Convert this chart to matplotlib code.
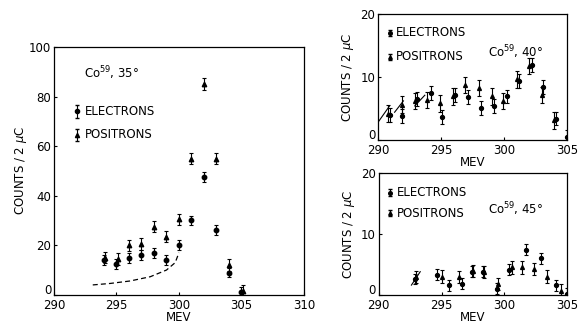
import numpy as np
import matplotlib
matplotlib.use("Agg")
import matplotlib.pyplot as plt
from matplotlib.transforms import ScaledTranslation

# ---- Co59, 35 deg (main panel) ----
e35_x = [294, 295, 296, 297, 298, 299, 300, 301, 302, 303, 304, 305]
e35_y = [14, 12.5, 15, 16, 17, 14, 20, 30, 47.5, 26, 9, 1]
p35_x = [294.1, 295.1, 296, 297, 298, 299, 300, 301, 302, 303, 304, 305.1]
p35_y = [15, 14.5, 20, 20.5, 27.5, 23.5, 30.5, 55, 85, 55, 12, 1.5]
e35_err = 2.0
p35_err = 2.3
curve35_x = [293.1, 294.5, 296.1, 297.7, 299.0, 299.7, 300.0]
curve35_y = [4.0, 4.6, 5.6, 7.3, 10.0, 13.0, 17.0]

# ---- Co59, 40 deg ----
e40_x = [290.9, 291.9, 293.1, 294.2, 295.1, 296.1, 297.1, 298.2, 299.2, 300.2, 301.2, 302.2, 303.1, 304.1, 305]
e40_y = [4.0, 3.8, 6.5, 7.5, 3.7, 7.1, 6.8, 5.1, 5.4, 6.9, 9.4, 11.9, 8.4, 3.4, 0.5]
p40_x = [290.8, 291.9, 292.9, 293.9, 294.9, 295.9, 296.9, 298.0, 299.0, 299.9, 301.0, 302.0, 303.0, 304.0]
p40_y = [4.2, 5.6, 6.2, 6.3, 5.8, 6.9, 8.7, 8.2, 6.9, 6.2, 9.6, 11.7, 7.1, 3.1]
e40_err = 1.1
p40_err = 1.3
seg40_x = [[289.7, 290.9], [291.3, 292.0], [292.9, 293.7]]
seg40_y = [[2.0, 5.4], [4.4, 6.2], [5.4, 7.1]]

# ---- Co59, 45 deg ----
e45_x = [292.9, 294.6, 295.6, 296.6, 297.4, 298.3, 299.4, 300.4, 301.7, 302.9, 304.1, 305]
e45_y = [2.6, 3.3, 1.6, 1.8, 3.8, 3.8, 1.0, 4.1, 7.4, 6.0, 1.6, 0.2]
p45_x = [293.0, 295.0, 296.4, 297.5, 298.4, 299.5, 300.6, 301.4, 302.4, 303.4, 304.5]
p45_y = [2.9, 3.0, 2.9, 3.9, 3.8, 1.8, 4.5, 4.5, 4.3, 3.0, 0.7]
e45_err = 0.9
p45_err = 1.0
seg45_x = [292.6, 293.3]
seg45_y = [1.6, 3.8]

fs = 8.5
plt.rcParams['font.family'] = 'DejaVu Sans'
plt.rcParams['axes.linewidth'] = 0.9

fig = plt.figure(figsize=(5.81, 3.24), dpi=100)

def style(ax, ypad=3):
    ax.tick_params(direction='in', length=2.5, width=0.8, labelsize=fs, pad=2,
                   top=False, right=False)
    ax.tick_params(axis='x', pad=3)
    ax.set_ylabel(r'COUNTS / 2 $\mu$C', fontsize=fs, labelpad=ypad)
    ax.set_xlabel('MEV', fontsize=fs, labelpad=-1)
    # the "0" sits a little higher than the axis line, as in the original
    zero = ax.yaxis.get_major_ticks()[0].label1
    zero.set_transform(zero.get_transform() +
                       ScaledTranslation(0, 4 / 72, fig.dpi_scale_trans))

def points(ax, ex, ey, eerr, px, py, perr, ms):
    ax.errorbar(ex, ey, yerr=eerr, fmt='o', color='black', ms=ms, capsize=1.5,
                elinewidth=0.8, capthick=0.8)
    ax.errorbar(px, py, yerr=perr, fmt='^', color='black', ms=ms, capsize=1.5,
                elinewidth=0.8, capthick=0.8)

def legend(ax, x, y1, y2, ms):
    ax.errorbar([x], [y1], yerr=[0.025], fmt='o', color='black', ms=ms, capsize=1.2,
                elinewidth=0.8, transform=ax.transAxes, clip_on=False)
    ax.errorbar([x], [y2], yerr=[0.025], fmt='^', color='black', ms=ms, capsize=1.2,
                elinewidth=0.8, transform=ax.transAxes, clip_on=False)
    ax.text(x + 0.035, y1, 'ELECTRONS', transform=ax.transAxes, fontsize=fs, va='center')
    ax.text(x + 0.035, y2, 'POSITRONS', transform=ax.transAxes, fontsize=fs, va='center')

# main panel
ax1 = fig.add_axes([0.093, 0.090, 0.430, 0.765])
points(ax1, e35_x, e35_y, e35_err, p35_x, p35_y, p35_err, 3.2)
ax1.plot(curve35_x, curve35_y, color='black', ls=(0, (4, 2.5)), lw=0.9)
ax1.set_xlim(290, 310)
ax1.set_ylim(0, 100)
ax1.set_xticks([290, 295, 300, 305, 310])
ax1.set_yticks([0, 20, 40, 60, 80, 100])
style(ax1, ypad=0)
legend(ax1, 0.09, 0.74, 0.645, 3.0)
ax1.text(0.12, 0.875, r'Co$^{59}$, 35°', transform=ax1.transAxes, fontsize=fs)

# 40 deg panel
ax2 = fig.add_axes([0.651, 0.568, 0.325, 0.389])
points(ax2, e40_x, e40_y, e40_err, p40_x, p40_y, p40_err, 2.8)
for sx, sy in zip(seg40_x, seg40_y):
    ax2.plot(sx, sy, color='black', lw=0.8)
ax2.set_xlim(290, 305)
ax2.set_ylim(0, 20)
ax2.set_xticks([290, 295, 300, 305])
ax2.set_yticks([0, 10, 20])
style(ax2)
legend(ax2, 0.06, 0.85, 0.66, 2.6)
ax2.text(0.58, 0.70, r'Co$^{59}$, 40°', transform=ax2.transAxes, fontsize=fs, va='center')

# 45 deg panel
ax3 = fig.add_axes([0.652, 0.090, 0.324, 0.376])
points(ax3, e45_x, e45_y, e45_err, p45_x, p45_y, p45_err, 2.8)
ax3.plot(seg45_x, seg45_y, color='black', lw=0.8)
ax3.set_xlim(290, 305)
ax3.set_ylim(0, 20)
ax3.set_xticks([290, 295, 300, 305])
ax3.set_yticks([0, 10, 20])
style(ax3)
legend(ax3, 0.06, 0.84, 0.67, 2.6)
ax3.text(0.58, 0.70, r'Co$^{59}$, 45°', transform=ax3.transAxes, fontsize=fs, va='center')

fig.savefig('out.png', dpi=100)
